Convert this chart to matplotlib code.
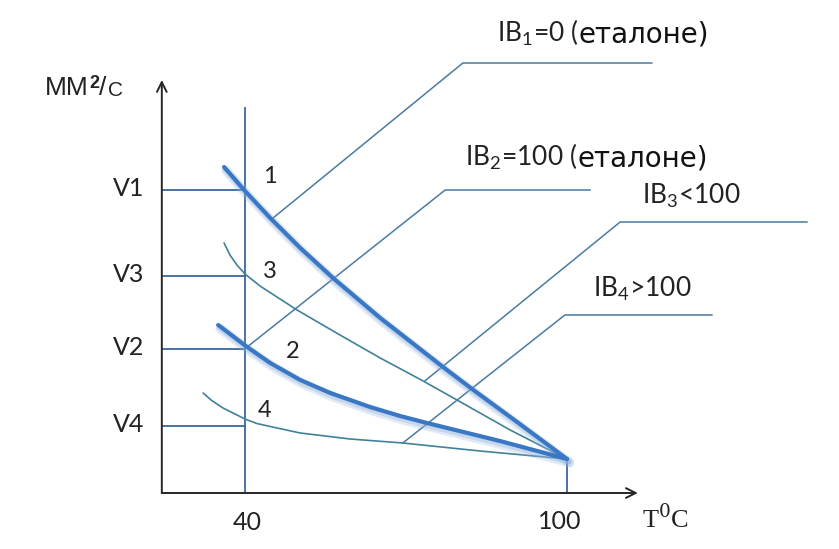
import matplotlib
matplotlib.use("Agg")
import matplotlib.pyplot as plt
import matplotlib.patheffects as pe

plt.rcParams['font.family'] = ['Lato', 'Liberation Sans', 'DejaVu Sans']
plt.rcParams['mathtext.fontset'] = 'custom'
plt.rcParams['mathtext.rm'] = 'Lato'

# viscosity vs temperature (arbitrary units on y)
curve1_t = [36.1, 40.0, 44.7, 50.3, 56.4, 65.2, 76.9, 82.3, 91.2, 100.0]
curve1_v = [32.6, 30.2, 27.5, 24.5, 21.5, 17.5, 12.6, 10.4, 6.9, 3.4]

curve2_t = [35.0, 40.4, 44.7, 50.3, 55.9, 63.3, 68.9, 73.9, 87.5, 100.0]
curve2_v = [16.8, 14.6, 13.0, 11.3, 10.0, 8.6, 7.7, 7.0, 5.2, 3.4]

curve3_t = [36.1, 37.2, 38.5, 40.0, 42.8, 49.7, 57.7, 65.2, 73.2, 79.5,
            89.4, 100.0]
curve3_v = [25.0, 23.8, 22.8, 21.9, 20.7, 18.3, 15.8, 13.5, 11.2, 9.3,
            6.3, 3.4]

curve4_t = [32.2, 33.8, 35.9, 40.0, 42.2, 44.7, 50.3, 59.6, 69.4, 83.8, 100.0]
curve4_v = [10.0, 9.25, 8.5, 7.4, 6.95, 6.65, 6.0, 5.4, 5.0, 4.2, 3.4]

t_ref = 40
t_end = 100
v_end = 3.4
v_names = ['V1', 'V3', 'V2', 'V4']
v_levels = [30.3, 21.7, 14.4, 6.7]

curve_names = ['1', '3', '2', '4']
curve_name_pos = [(44.7, 31.0), (44.7, 21.5), (48.8, 13.5), (43.7, 7.6)]

# leader lines: point on curve -> elbow -> end of shelf
leader_labels = [('IB$_1$=0 (', 'еталоне)'),
                 ('IB$_2$=100 (', 'еталоне)'),
                 ('IB$_3$<100', ''),
                 ('IB$_4$>100', '')]
leader_t = [[45.0, 80.6, 115.8], [40.4, 77.3, 104.3],
            [73.5, 109.9, 144.7], [69.4, 99.6, 127.0]]
leader_v = [[27.4, 43.0, 43.0], [14.6, 30.3, 30.3],
            [11.2, 27.1, 27.1], [5.0, 17.8, 17.8]]
leader_text_pos = [(87.0, 45.1), (81.0, 32.7), (114.0, 28.9), (104.8, 19.6)]

t_axis = [24.5, 113.2]
v_axis_top = 41.3
v_ref_top = 38.5

fig = plt.figure(figsize=(8.39, 5.49), dpi=100)
ax = fig.add_axes([0, 0, 1, 1])
ax.set_xlim(-5.65, 150.68)
ax.set_ylim(-5.6, 49.3)
ax.axis('off')

axis_col = '#262626'
grid_col = '#3b679c'
thick_col = '#3a78c6'
thin_col = '#3f8299'
lead_col = '#4a7ba0'
txt_col = '#222222'

# axes with open arrow heads
arrow = dict(arrowstyle='->,head_length=0.7,head_width=0.35',
             color=axis_col, lw=1.4, shrinkA=0, shrinkB=0)
ax.annotate('', xy=(t_axis[1], 0), xytext=(t_axis[0], 0), arrowprops=arrow)
ax.annotate('', xy=(t_axis[0], v_axis_top), xytext=(t_axis[0], 0),
            arrowprops=arrow)

# reference lines
ax.plot([t_ref, t_ref], [0, v_ref_top], color=grid_col, lw=1.3)
ax.plot([t_end, t_end], [0, v_end], color=grid_col, lw=1.3)
for lv in v_levels:
    ax.plot([t_axis[0], t_ref], [lv, lv], color=grid_col, lw=1.3)

# leader lines
for lt, lv in zip(leader_t, leader_v):
    ax.plot(lt, lv, color=lead_col, lw=1.1)

shadow = [pe.SimpleLineShadow(offset=(1.5, -2.5), shadow_color='#8fb0dd',
                              alpha=0.25, linewidth=7),
          pe.SimpleLineShadow(offset=(1.0, -1.8), shadow_color='#8fb0dd',
                              alpha=0.35, linewidth=4.5),
          pe.Normal()]

for ct, cv in [(curve3_t, curve3_v), (curve4_t, curve4_v)]:
    ax.plot(ct, cv, color=thin_col, lw=1.2, solid_capstyle='round',
            solid_joinstyle='round')
for ct, cv in [(curve1_t, curve1_v), (curve2_t, curve2_v)]:
    ax.plot(ct, cv, color=thick_col, lw=3.0, solid_capstyle='round',
            solid_joinstyle='round', path_effects=shadow)

# labels
for name, lv in zip(v_names, v_levels):
    ax.text(18.4, lv - 0.6, name, ha='center', va='baseline', fontsize=18,
            color=txt_col)
for name, (x, y) in zip(curve_names, curve_name_pos):
    ax.text(x, y, name, ha='center', va='baseline', fontsize=17,
            color=txt_col)

for (a, b), (x, y) in zip(leader_labels, leader_text_pos):
    t1 = ax.text(x, y, a, ha='left', va='baseline', fontsize=19,
                 color=txt_col)
    if b:
        ax.annotate(b, xy=(1, 0), xycoords=t1, ha='left', va='bottom',
                    fontsize=20, color='#111111',
                    family=['DejaVu Sans'])

ax.text(t_ref + 0.4, -3.7, '40', ha='center', va='baseline', fontsize=18,
        color=txt_col)
ax.text(98.7, -3.6, '100', ha='center', va='baseline', fontsize=18,
        color=txt_col)

# unit of the y axis: mm^2/s
sans = ['Liberation Sans', 'DejaVu Sans']
u1 = ax.text(2.7, 39.8, 'ММ', ha='left', va='baseline', fontsize=19,
             color=txt_col, family=sans)
u2 = ax.annotate('2', xy=(1, 1), xycoords=u1, xytext=(0.5, 1),
                 textcoords='offset points', ha='left', va='top',
                 fontsize=13, fontweight='bold', color=txt_col, family=sans)
u3 = ax.annotate('/', xy=(1, 0), xycoords=(u2, u1), ha='left', va='bottom',
                 fontsize=19, color=txt_col, family=sans)
ax.annotate('С', xy=(1, 0), xycoords=u3, xytext=(1, 0),
            textcoords='offset points', ha='left', va='bottom',
            fontsize=15, color=txt_col, family=sans)

ax.text(114.0, -3.5, r'T$^{0}$C', ha='left', va='baseline', fontsize=19,
        color=txt_col, family=['Liberation Serif', 'DejaVu Serif'],
        math_fontfamily='dejavuserif')

fig.savefig('out.png', dpi=100, facecolor='white')
